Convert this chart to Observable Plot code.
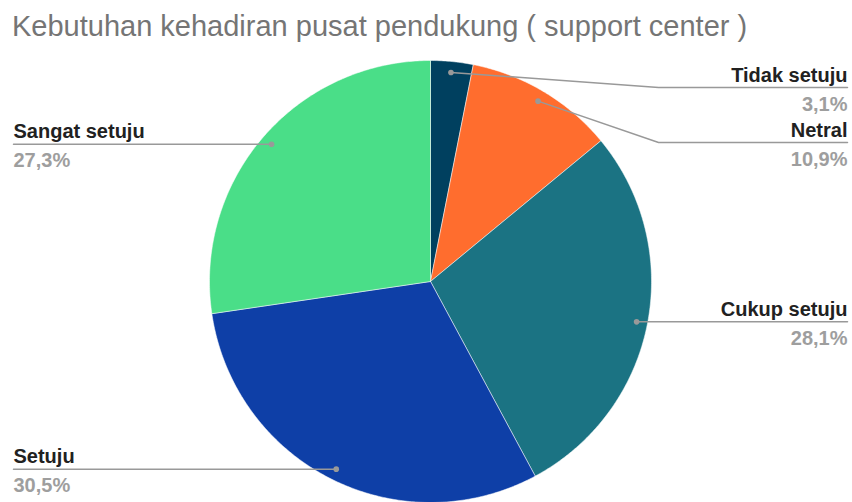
<!DOCTYPE html>
<html>
<head>
<meta charset="utf-8">
<script src="https://cdn.jsdelivr.net/npm/d3@7"></script>
<script src="https://cdn.jsdelivr.net/npm/@observablehq/plot@0.6"></script>
<style>
  html, body { margin: 0; padding: 0; background: #fff; }
  #wrap { position: relative; width: 852px; height: 502px; overflow: hidden; }
  #title { position: absolute; left: 12px; top: 12px; font-family: "Liberation Sans", Arial, sans-serif; font-size: 29px; line-height: 29px; color: #757575; white-space: nowrap; z-index: 2; }
  #chart { position: absolute; left: 0; top: 0; }
</style>
</head>
<body>
<div id="wrap">
  <div id="title">Kebutuhan kehadiran pusat pendukung ( support center )</div>
  <div id="chart"></div>
</div>
<script>
const categories = ["Tidak setuju", "Netral", "Cukup setuju", "Setuju", "Sangat setuju"];
const values = [3.1, 10.9, 28.1, 30.5, 27.3];
const valueLabels = ["3,1%", "10,9%", "28,1%", "30,5%", "27,3%"];
const colors = ["#00405f", "#ff6d2e", "#1b7383", "#0e3fa7", "#4ade88"];

// layout (pixels)
const W = 852, H = 502, CX = 430, CY = 281, R = 221;
const xDomain = [-CX / R, (W - CX) / R];
const yDomain = [-(H - CY) / R, CY / R];

const pie = d3.pie().sort(null).value(d => d)(values);

// slice polygons
const slicePts = [];
pie.forEach((p, i) => {
  const n = Math.max(4, Math.ceil((p.endAngle - p.startAngle) / 0.01));
  slicePts.push({cat: categories[i], x: 0, y: 0});
  for (let k = 0; k <= n; k++) {
    const a = p.startAngle + (p.endAngle - p.startAngle) * k / n;
    slicePts.push({cat: categories[i], x: Math.sin(a), y: Math.cos(a)});
  }
  slicePts.push({cat: categories[i], x: 0, y: 0});
});

// labels & leaders
const dotR = 210 / R, elbowX = 1.032, textX = (W - 5 - CX) / R;
const gap = 55 / R, minTop = (CY - 87) / R;
const items = pie.map((p, i) => {
  const a = (p.startAngle + p.endAngle) / 2;
  return {cat: categories[i], pct: valueLabels[i], dx: dotR * Math.sin(a), dy: dotR * Math.cos(a), side: Math.sin(a) >= 0 ? 1 : -1};
});
[1, -1].forEach(side => {
  const list = items.filter(d => d.side === side).sort((a, b) => b.dy - a.dy);
  let prev = Infinity;
  list.forEach(d => {
    const ly = Math.min(d.dy, minTop, prev - gap);
    d.ly = ly;
    prev = ly;
  });
});
items.forEach(d => { d.tx = d.side * textX; });
const leaderPts = [];
items.forEach(d => {
  leaderPts.push({cat: d.cat, x: d.dx, y: d.dy});
  if (Math.abs(d.dy - d.ly) > 1e-6) leaderPts.push({cat: d.cat, x: d.side * elbowX, y: d.ly});
  leaderPts.push({cat: d.cat, x: d.tx, y: d.ly});
});
const right = items.filter(d => d.side > 0);
const left = items.filter(d => d.side < 0);
const font = "Liberation Sans, Arial, sans-serif";
const labelOpts = (anchor) => ({x: "tx", y: "ly", text: "cat", textAnchor: anchor, lineAnchor: "bottom", dy: -6, fontSize: 20, fontWeight: "bold", fill: "#212121", fontFamily: font});
const pctOpts = (anchor) => ({x: "tx", y: "ly", text: "pct", textAnchor: anchor, lineAnchor: "bottom", dy: 23, fontSize: 20, fontWeight: "bold", fill: "#9e9e9e", fontFamily: font});

const chart = Plot.plot({
  width: W,
  height: H,
  margin: 0,
  x: {domain: xDomain, axis: null},
  y: {domain: yDomain, axis: null},
  color: {domain: categories, range: colors},
  style: {background: "transparent"},
  marks: [
    Plot.line(slicePts, {x: "x", y: "y", z: "cat", fill: "cat", stroke: "#fff", strokeWidth: 0.5, curve: "linear"}),
    Plot.line(leaderPts, {x: "x", y: "y", z: "cat", stroke: "#999999", strokeWidth: 1.5}),
    Plot.dot(items, {x: "dx", y: "dy", r: 2.8, fill: "#999999", stroke: null}),
    Plot.text(right, labelOpts("end")),
    Plot.text(left, labelOpts("start")),
    Plot.text(right, pctOpts("end")),
    Plot.text(left, pctOpts("start"))
  ]
});
document.getElementById("chart").appendChild(chart);
</script>
</body>
</html>
